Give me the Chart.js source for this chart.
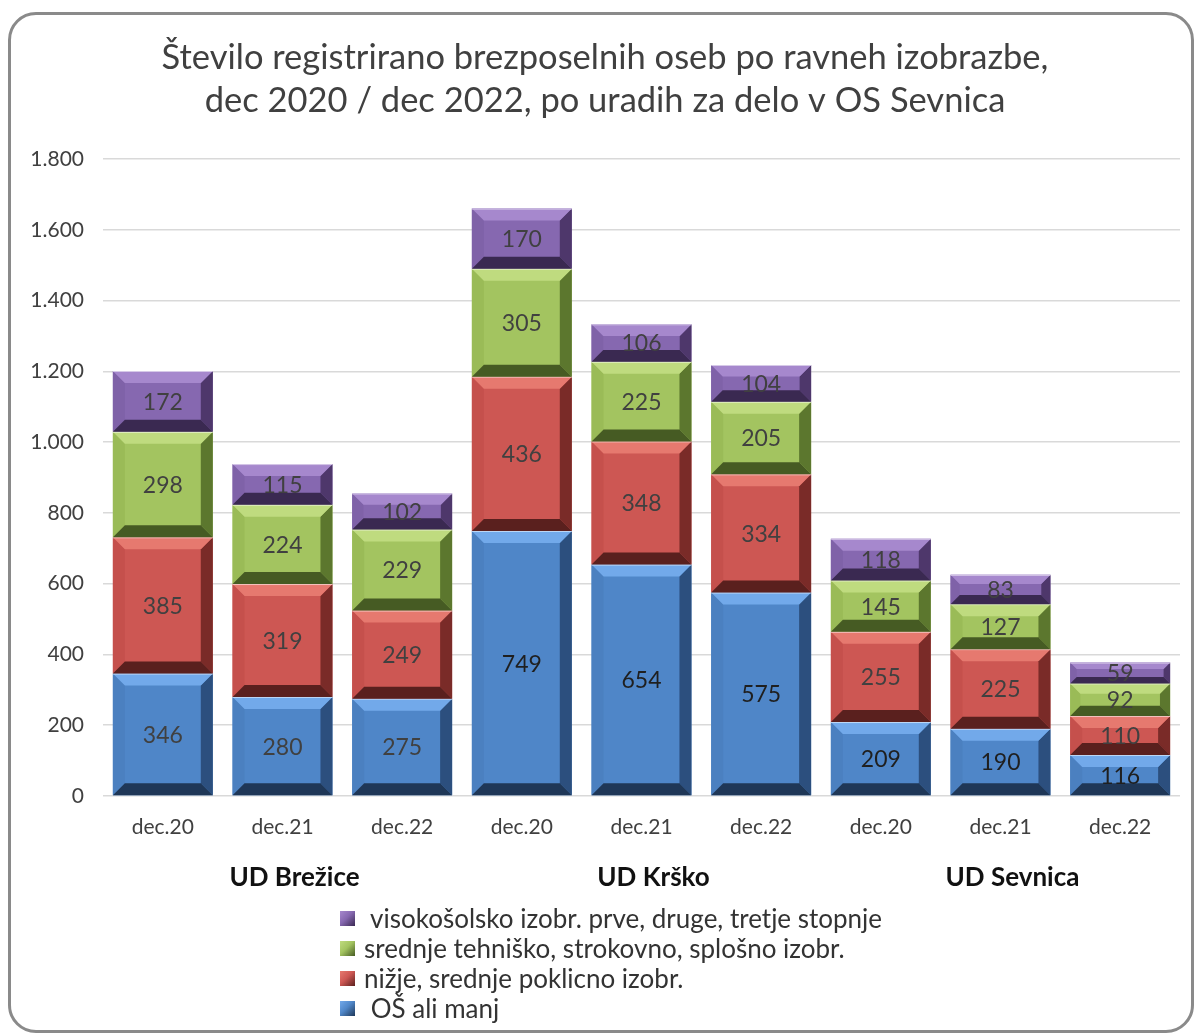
<!DOCTYPE html>
<html>
<head>
<meta charset="utf-8">
<script src="https://cdn.jsdelivr.net/npm/chart.js@4"></script>
<style>
  html, body { margin: 0; padding: 0; background: #ffffff; }
  body { width: 1196px; height: 1035px; position: relative; overflow: hidden; font-family: Lato, "Open Sans", sans-serif; }
  #frame { position: absolute; left: 8px; top: 12px; width: 1186px; height: 1021px; box-sizing: border-box;
           border: 3px solid #8a8a8a; border-radius: 28px; }
  #wrap { position: absolute; left: 0; top: 0; width: 1196px; height: 905px; }
  #legend { position: absolute; left: 340px; top: 903px; font-size: 26px; color: #333; }
  #legend div { height: 30px; line-height: 30px; display: flex; align-items: center; white-space: pre; }
  #legend span.box { display: inline-block; width: 15px; height: 15px; margin-right: 9px; }
</style>
</head>
<body>
<div id="frame"></div>
<div id="wrap"><canvas id="c" width="1196" height="905"></canvas></div>
<div id="legend"></div>
<script>
// ---- data ----
const categories = ['dec.20','dec.21','dec.22','dec.20','dec.21','dec.22','dec.20','dec.21','dec.22'];
const groups = ['UD Brežice','UD Krško','UD Sevnica'];
const groupTickLabels = ['', groups[0], '', '', groups[1], '', '', groups[2], ''];
const osAliManj   = [346, 280, 275, 749, 654, 575, 209, 190, 116];
const nizjeSrednje = [385, 319, 249, 436, 348, 334, 255, 225, 110];
const srednjeTeh  = [298, 224, 229, 305, 225, 205, 145, 127, 92];
const visokosolsko = [172, 115, 102, 170, 106, 104, 118, 83, 59];
const seriesNames = ['OŠ ali manj', 'nižje, srednje poklicno izobr.', 'srednje tehniško, strokovno, splošno izobr.', 'visokošolsko izobr. prve, druge, tretje stopnje'];
const titleLines = ['Število registrirano brezposelnih oseb po ravneh izobrazbe,', 'dec 2020 / dec 2022, po uradih za delo v OS Sevnica'];

// ---- styles ----
const palettes = [
  { face: '#4f86c8', top: '#72a9ea', left: '#4b80c0', right: '#2c4f7e', bottom: '#1f3757', label: '#1f1f1f' },
  { face: '#cd5753', top: '#e6796f', left: '#c5504c', right: '#7a2b28', bottom: '#5a201e', label: '#404040' },
  { face: '#a3c460', top: '#bfdb7f', left: '#9abb57', right: '#5c772e', bottom: '#465b23', label: '#404040' },
  { face: '#8668b0', top: '#a688cd', left: '#7f62a8', right: '#4e376b', bottom: '#3a2951', label: '#404040' }
];
const blueLabelColors = ['#404040','#404040','#404040','#1f1f1f','#1f1f1f','#1f1f1f','#1f1f1f','#1f1f1f','#1f1f1f'];

const bevelPlugin = {
  id: 'bevel',
  afterDatasetsDraw(chart) {
    const ctx = chart.ctx;
    chart.data.datasets.forEach((ds, di) => {
      const meta = chart.getDatasetMeta(di);
      const p = palettes[di];
      meta.data.forEach((el, i) => {
        const { x, y, base, width } = el.getProps(['x', 'y', 'base', 'width'], true);
        const L = x - width / 2, R = x + width / 2;
        const T = Math.min(y, base), B = Math.max(y, base);
        const h = B - T;
        const b = Math.min(12, h / 3.2, width / 4);
        ctx.save();
        const poly = (pts, col) => {
          ctx.beginPath();
          ctx.moveTo(pts[0][0], pts[0][1]);
          for (let k = 1; k < pts.length; k++) ctx.lineTo(pts[k][0], pts[k][1]);
          ctx.closePath();
          ctx.fillStyle = col;
          ctx.fill();
        };
        poly([[L, T], [L + b, T + b], [L + b, B - b], [L, B]], p.left);
        poly([[R, T], [R, B], [R - b, B - b], [R - b, T + b]], p.right);
        poly([[L, B], [R, B], [R - b, B - b], [L + b, B - b]], p.bottom);
        poly([[L, T], [R, T], [R - b, T + b], [L + b, T + b]], p.top);
        ctx.fillStyle = 'rgba(255,255,255,0.55)';
        ctx.fillRect(L, T, width, 1);
        ctx.font = '23px Lato, "Open Sans", sans-serif';
        ctx.textAlign = 'center';
        ctx.textBaseline = 'middle';
        ctx.fillStyle = di === 0 ? blueLabelColors[i] : p.label;
        ctx.fillText(String(ds.data[i]), x, (T + B) / 2 + 1);
        ctx.restore();
      });
    });
  }
};

const fmt = v => String(v).replace(/\B(?=(\d{3})+(?!\d))/g, '.');

const seriesData = [osAliManj, nizjeSrednje, srednjeTeh, visokosolsko];
const datasets = seriesData.map((d, i) => ({
  label: seriesNames[i],
  data: d,
  backgroundColor: palettes[i].face,
  borderWidth: 0,
  barPercentage: 0.835,
  categoryPercentage: 1.0
}));

const FONT = 'Lato, "Open Sans", sans-serif';

new Chart(document.getElementById('c'), {
  type: 'bar',
  data: { labels: categories, datasets },
  plugins: [bevelPlugin],
  options: {
    responsive: false,
    animation: false,
    layout: { padding: { left: 30, right: 16, top: 0, bottom: 0 } },
    plugins: {
      legend: { display: false },
      tooltip: { enabled: false },
      title: {
        display: true,
        text: titleLines,
        color: '#404040',
        font: { family: FONT, size: 34.5, weight: 'normal', lineHeight: 1.247 },
        padding: { top: 36, bottom: 37 }
      }
    },
    scales: {
      x: {
        stacked: true,
        weight: 0,
        grid: { display: false },
        border: { display: false },
        ticks: { color: '#404040', font: { family: FONT, size: 21 }, padding: 11, maxRotation: 0 },
        afterFit(s) { s.height = 50; }
      },
      x2: {
        type: 'category',
        labels: groupTickLabels,
        position: 'bottom',
        weight: 1,
        grid: { display: false },
        border: { display: false },
        ticks: { color: '#111', font: { family: FONT, size: 26, weight: 'bold' }, padding: 8, labelOffset: 12, maxRotation: 0, autoSkip: false },
        afterFit(s) { s.height = 59; }
      },
      y: {
        stacked: true,
        min: 0,
        max: 1800,
        border: { display: false },
        grid: { color: '#d9d9d9', lineWidth: 1.5, drawTicks: false },
        ticks: { stepSize: 200, color: '#404040', font: { family: FONT, size: 21 }, padding: 19, callback: v => fmt(v) },
        afterFit(s) { s.width = 73; }
      }
    }
  }
});

// HTML legend (reverse order, as in the reference)
const legendEl = document.getElementById('legend');
for (let i = seriesNames.length - 1; i >= 0; i--) {
  const p = palettes[i];
  const row = document.createElement('div');
  const box = document.createElement('span');
  box.className = 'box';
  box.style.background = `linear-gradient(135deg, ${p.top} 0%, ${p.face} 45%, ${p.bottom} 100%)`;
  row.appendChild(box);
  row.appendChild(document.createTextNode((i === 3 || i === 0 ? ' ' : '') + seriesNames[i]));
  legendEl.appendChild(row);
}
</script>
</body>
</html>
